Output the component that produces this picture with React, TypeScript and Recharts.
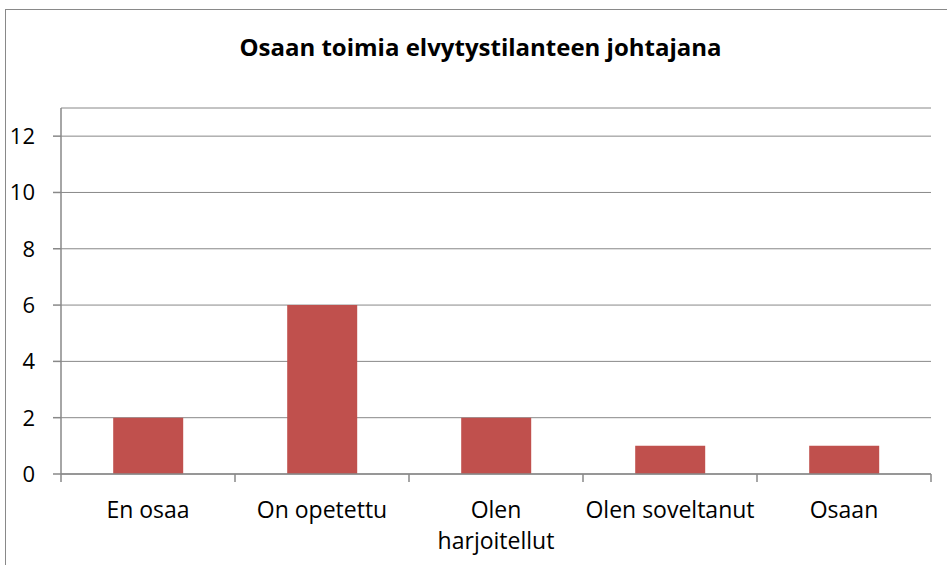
import React from "react";
import { BarChart, Bar, XAxis, YAxis, CartesianGrid } from "recharts";

const TITLE = "Osaan toimia elvytystilanteen johtajana";
const categories = ["En osaa", "On opetettu", "Olen harjoitellut", "Olen soveltanut", "Osaan"];
const values = [2, 6, 2, 1, 1];
const yTicks = [0, 2, 4, 6, 8, 10, 12];

const data = categories.map((c, i) => ({ name: c, value: values[i] }));

const FONT = "'Open Sans', Lato, sans-serif";
const W = 947;
const H = 565;
const M_LEFT = 61;
const M_RIGHT = 16;
const BAND = (W - M_LEFT - M_RIGHT) / categories.length;
const AXIS_COLOR = "#888888";

const XTick = (props: any) => {
  const { x, payload, index } = props;
  const label: string = payload.value;
  let lines = [label];
  if (label.length > 16) {
    const idx = label.indexOf(" ");
    lines = [label.slice(0, idx), label.slice(idx + 1)];
  }
  const axisY = 474;
  return (
    <g>
      <line x1={x - BAND / 2} x2={x - BAND / 2} y1={axisY} y2={axisY + 8} stroke={AXIS_COLOR} strokeWidth={1.5} />
      {index === categories.length - 1 && (
        <line x1={x + BAND / 2} x2={x + BAND / 2} y1={axisY} y2={axisY + 8} stroke={AXIS_COLOR} strokeWidth={1.5} />
      )}
      <text x={x} y={518} textAnchor="middle" fill="#000" fontSize={23} fontFamily={FONT}>
        {lines.map((l, i) => (
          <tspan key={i} x={x} dy={i === 0 ? 0 : 31}>
            {l}
          </tspan>
        ))}
      </text>
    </g>
  );
};

const YTick = (props: any) => {
  const { y, payload } = props;
  return (
    <text x={35} y={y} dy={8} textAnchor="end" fill="#000" fontSize={22} fontFamily={FONT}>
      {payload.value}
    </text>
  );
};

export default function App() {
  return (
    <div style={{ position: "absolute", left: 0, top: 0, width: W, height: H, background: "#fff", overflow: "hidden" }}>
      <div style={{ position: "absolute", left: 5, top: 9, width: W + 10, height: H + 10, border: "1.5px solid #898989", boxSizing: "border-box" }} />
      <div
        style={{
          position: "absolute",
          left: 0,
          top: 0,
          width: W,
          textAlign: "center",
          paddingLeft: 14,
          boxSizing: "border-box",
          fontFamily: FONT,
          fontWeight: "bold",
          fontSize: 24,
          lineHeight: "30px",
          marginTop: 32,
          color: "#000",
        }}
      >
        {TITLE}
      </div>
      <div style={{ position: "absolute", left: 0, top: 0 }}>
        <BarChart width={W} height={H} data={data} margin={{ top: 108, right: M_RIGHT, bottom: 0, left: 0 }} barCategoryGap="30%">
          <CartesianGrid horizontal={true} vertical={false} stroke={AXIS_COLOR} strokeWidth={1} />
          <XAxis
            dataKey="name"
            height={91}
            axisLine={{ stroke: AXIS_COLOR, strokeWidth: 1.5 }}
            tickLine={false}
            interval={0}
            tick={<XTick />}
          />
          <YAxis
            width={M_LEFT}
            domain={[0, 13]}
            ticks={yTicks}
            interval={0}
            axisLine={{ stroke: AXIS_COLOR, strokeWidth: 1.5 }}
            tickLine={{ stroke: AXIS_COLOR, strokeWidth: 1.5 }}
            tickSize={8}
            tick={<YTick />}
            allowDataOverflow
          />
          <Bar dataKey="value" fill="#C0504D" isAnimationActive={false} />
        </BarChart>
      </div>
    </div>
  );
}
